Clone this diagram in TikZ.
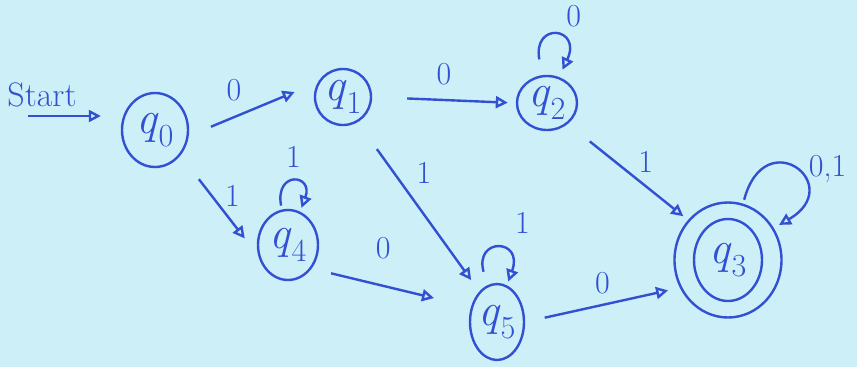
\documentclass[tikz,border=0pt]{standalone}
\usepackage{fontspec}
\usetikzlibrary{arrows.meta,shapes.geometric}
\definecolor{PenBlue}{RGB}{50,80,210}
\definecolor{PaperCyan}{RGB}{205,239,247}
\newcommand{\qname}[1]{\textit{q}\textsubscript{#1}}

\begin{document}
\begin{tikzpicture}[x=1pt,y=-1pt,
    qstate/.style={ellipse,draw=PenBlue,line width=2.4pt,text=PenBlue,inner sep=0pt,font=\fontsize{46}{46}\selectfont},
    trans/.style={draw=PenBlue,line width=2.4pt,-{Triangle[open,length=12pt,width=12pt]},shorten <=20pt,shorten >=12pt},
    selfloop/.style={trans,shorten <=4pt,shorten >=4pt},
    lbl/.style={text=PenBlue,font=\fontsize{32}{32}\selectfont}]
  \fill[PaperCyan] (0,0) rectangle (857,367);

  \node[qstate,minimum width=66pt,minimum height=74pt] (q0) at (155,130) {\qname{0}};
  \node[qstate,minimum width=56pt,minimum height=56pt] (q1) at (343,97) {\qname{1}};
  \node[qstate,minimum width=60pt,minimum height=54pt] (q2) at (547,103) {\qname{2}};
  \node[qstate,minimum width=60pt,minimum height=70pt] (q4) at (288,245) {\qname{4}};
  \node[qstate,minimum width=54pt,minimum height=76pt] (q5) at (497,322) {\qname{5}};
  \node[qstate,minimum width=107pt,minimum height=115pt] (q3) at (728,260) {};
  \node[qstate,minimum width=68pt,minimum height=82pt] (q3in) at (q3) {\qname{3}};

  \coordinate (startc) at (28,116);
  \node[lbl,font=\fontsize{34}{34}\selectfont] (startlbl) at (42,95) {Start};
  \draw[trans,shorten <=0pt,shorten >=20pt] (startc) -- (startc -| q0.west);

  \draw[trans,shorten <=24pt,shorten >=25pt] (q0.-10) -- node[lbl,above=12pt,pos=0.35] {0} (q1.150);
  \draw[trans,shorten <=35pt,shorten >=8pt] (q1.east) -- node[lbl,above=10pt] {0} (q2.west);
  \draw[trans,shorten <=30pt,shorten >=22pt] (q0.-45) -- node[lbl,right=9pt,pos=0.4] {1} (q4.200);
  \draw[trans,shorten <=33pt,shorten >=14pt] (q1.-60) -- node[lbl,right=18pt,pos=0.3] {1} (q5.120);
  \draw[trans,shorten >=38pt] (q4.-45) -- node[lbl,above=22pt,pos=0.45] {0} (q5.150);
  \draw[trans,shorten <=28pt,shorten >=6pt] (q2.-45) -- node[lbl,above right,pos=0.55] {1} (q3.135);
  \draw[trans] (q5.east) -- node[lbl,above=6pt] {0} (q3.210);

  \draw[selfloop,shorten <=16pt,shorten >=8pt] (q2.100) .. controls +(100:55pt) and +(65:55pt) .. (q2.65)
    node[lbl,pos=0.5,above right=6pt] {0};
  \draw[selfloop] (q4.100) .. controls +(100:40pt) and +(70:40pt) .. (q4.70)
    node[lbl,pos=0.5,above=10pt] {1};
  \draw[selfloop,shorten <=14pt] (q5.105) .. controls +(105:50pt) and +(70:50pt) .. (q5.75)
    node[lbl,pos=0.5,above right=12pt] {1};
  \draw[selfloop,shorten >=6pt] (q3.75) .. controls +(75:85pt) and +(30:85pt) .. (q3.35)
    node[lbl,pos=0.5,right=10pt] {0,1};
\end{tikzpicture}
\end{document}
